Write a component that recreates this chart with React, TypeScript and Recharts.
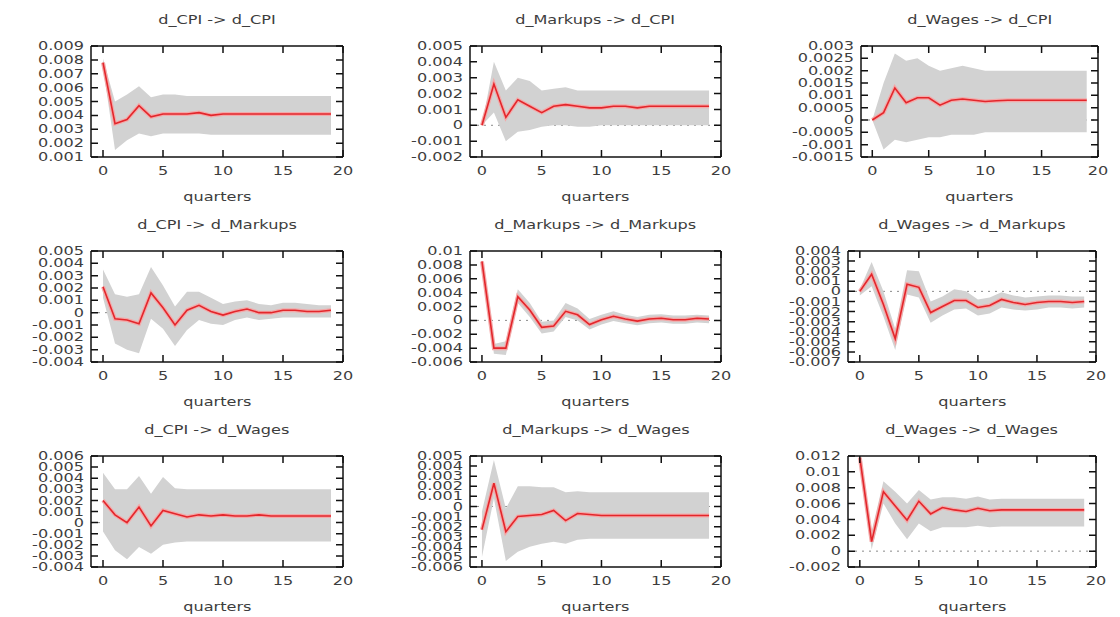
import React from "react";
import { ComposedChart, Area, Line, XAxis, YAxis, ReferenceLine } from "recharts";

// impulse horizon (quarters after the shock)
const quarters = [0, 1, 2, 3, 4, 5, 6, 7, 8, 9, 10, 11, 12, 13, 14, 15, 16, 17, 18, 19];
const xTicks = [0, 5, 10, 15, 20];

// d_CPI -> d_CPI
const cpiCpi = [0.0078, 0.0034, 0.0037, 0.0047, 0.0039, 0.0041, 0.0041, 0.0041, 0.0042, 0.004, 0.0041, 0.0041, 0.0041, 0.0041, 0.0041, 0.0041, 0.0041, 0.0041, 0.0041, 0.0041];
const cpiCpiLo = [0.0075, 0.0015, 0.0022, 0.0027, 0.0025, 0.0027, 0.0027, 0.0027, 0.0027, 0.0026, 0.0026, 0.0026, 0.0026, 0.0026, 0.0026, 0.0026, 0.0026, 0.0026, 0.0026, 0.0026];
const cpiCpiHi = [0.0081, 0.005, 0.0055, 0.0061, 0.0053, 0.0055, 0.0055, 0.0054, 0.0054, 0.0054, 0.0054, 0.0054, 0.0054, 0.0054, 0.0054, 0.0054, 0.0054, 0.0054, 0.0054, 0.0054];
const cpiCpiTicks = [0.001, 0.002, 0.003, 0.004, 0.005, 0.006, 0.007, 0.008, 0.009];

// d_Markups -> d_CPI
const mkpCpi = [0, 0.0026, 0.0005, 0.0016, 0.0012, 0.0008, 0.0012, 0.0013, 0.0012, 0.0011, 0.0011, 0.0012, 0.0012, 0.0011, 0.0012, 0.0012, 0.0012, 0.0012, 0.0012, 0.0012];
const mkpCpiLo = [0, 0.0008, -0.001, -0.0004, -0.0003, -0.0001, 0, 0, -0.0001, -0.0001, 0, 0, 0, 0, 0, 0, 0, 0, 0, 0];
const mkpCpiHi = [0, 0.004, 0.0022, 0.003, 0.0028, 0.0022, 0.0023, 0.0024, 0.0022, 0.0022, 0.0022, 0.0022, 0.0022, 0.0022, 0.0022, 0.0022, 0.0022, 0.0022, 0.0022, 0.0022];
const mkpCpiTicks = [-0.002, -0.001, 0, 0.001, 0.002, 0.003, 0.004, 0.005];

// d_Wages -> d_CPI
const wagCpi = [0, 0.0003, 0.0013, 0.0007, 0.0009, 0.0009, 0.0006, 0.0008, 0.00085, 0.0008, 0.00075, 0.00078, 0.0008, 0.0008, 0.0008, 0.0008, 0.0008, 0.0008, 0.0008, 0.0008];
const wagCpiLo = [0, -0.0012, -0.0008, -0.0009, -0.0008, -0.0007, -0.0007, -0.0006, -0.0006, -0.0006, -0.0005, -0.0005, -0.0005, -0.0005, -0.0005, -0.0005, -0.0005, -0.0005, -0.0005, -0.0005];
const wagCpiHi = [0, 0.0015, 0.0027, 0.0024, 0.0025, 0.0022, 0.002, 0.0021, 0.0022, 0.0021, 0.002, 0.002, 0.002, 0.002, 0.002, 0.002, 0.002, 0.002, 0.002, 0.002];
const wagCpiTicks = [-0.0015, -0.001, -0.0005, 0, 0.0005, 0.001, 0.0015, 0.002, 0.0025, 0.003];

// d_CPI -> d_Markups
const cpiMkp = [0.0021, -0.0005, -0.0006, -0.0009, 0.0016, 0.0004, -0.001, 0.0002, 0.0006, 0.0001, -0.0002, 0.0001, 0.0003, 0, 0, 0.0002, 0.0002, 0.0001, 0.0001, 0.0002];
const cpiMkpLo = [0.0012, -0.0025, -0.003, -0.0033, -0.0005, -0.0013, -0.0027, -0.0014, -0.0006, -0.0009, -0.001, -0.0006, -0.0004, -0.0006, -0.0005, -0.0004, -0.0004, -0.0004, -0.0004, -0.0004];
const cpiMkpHi = [0.0035, 0.0015, 0.0013, 0.0015, 0.0037, 0.0022, 0.0005, 0.0017, 0.0017, 0.0012, 0.0007, 0.0009, 0.001, 0.0007, 0.0006, 0.0008, 0.0008, 0.0007, 0.0006, 0.0006];
const cpiMkpTicks = [-0.004, -0.003, -0.002, -0.001, 0, 0.001, 0.002, 0.003, 0.004, 0.005];

// d_Markups -> d_Markups
const mkpMkp = [0.0085, -0.004, -0.004, 0.0034, 0.0015, -0.001, -0.0008, 0.0013, 0.0008, -0.0006, 0.0001, 0.0006, 0.0002, -0.0001, 0.0002, 0.0003, 0.0001, 0.0001, 0.0003, 0.0002];
const mkpMkpLo = [0.0082, -0.0048, -0.005, 0.0025, 0.0005, -0.0019, -0.0016, 0.0005, 0, -0.0013, -0.0006, -0.0001, -0.0004, -0.0007, -0.0004, -0.0003, -0.0005, -0.0005, -0.0003, -0.0004];
const mkpMkpHi = [0.0088, -0.0034, -0.003, 0.0045, 0.0025, -0.0002, 0, 0.0025, 0.0017, 0.0002, 0.0008, 0.0013, 0.0008, 0.0005, 0.0008, 0.0009, 0.0007, 0.0007, 0.0008, 0.0007];
const mkpMkpTicks = [-0.006, -0.004, -0.002, 0, 0.002, 0.004, 0.006, 0.008, 0.01];

// d_Wages -> d_Markups
const wagMkp = [0, 0.0017, -0.0013, -0.0047, 0.0007, 0.0004, -0.0021, -0.0015, -0.0009, -0.0009, -0.0016, -0.0014, -0.0008, -0.0011, -0.0013, -0.0011, -0.001, -0.001, -0.0011, -0.001];
const wagMkpLo = [-0.0004, 0.0005, -0.0025, -0.0058, -0.0003, -0.0006, -0.0031, -0.0024, -0.0018, -0.0017, -0.0024, -0.0022, -0.0016, -0.0018, -0.0019, -0.0018, -0.0016, -0.0016, -0.0017, -0.0016];
const wagMkpHi = [0.0002, 0.0029, 0, -0.0037, 0.0021, 0.002, -0.001, -0.0005, 0.0002, 0, -0.0008, -0.0006, -0.0001, -0.0004, -0.0006, -0.0005, -0.0004, -0.0004, -0.0005, -0.0005];
const wagMkpTicks = [-0.007, -0.006, -0.005, -0.004, -0.003, -0.002, -0.001, 0, 0.001, 0.002, 0.003, 0.004];

// d_CPI -> d_Wages
const cpiWag = [0.002, 0.0007, 0, 0.0014, -0.0003, 0.0011, 0.0008, 0.0005, 0.0007, 0.0006, 0.0007, 0.0006, 0.0006, 0.0007, 0.0006, 0.0006, 0.0006, 0.0006, 0.0006, 0.0006];
const cpiWagLo = [-0.0008, -0.0025, -0.0033, -0.0022, -0.0028, -0.002, -0.0018, -0.0017, -0.0017, -0.0017, -0.0017, -0.0017, -0.0017, -0.0017, -0.0017, -0.0017, -0.0017, -0.0017, -0.0017, -0.0017];
const cpiWagHi = [0.0045, 0.003, 0.003, 0.0042, 0.0026, 0.0041, 0.0031, 0.003, 0.003, 0.003, 0.003, 0.003, 0.003, 0.003, 0.003, 0.003, 0.003, 0.003, 0.003, 0.003];
const cpiWagTicks = [-0.004, -0.003, -0.002, -0.001, 0, 0.001, 0.002, 0.003, 0.004, 0.005, 0.006];

// d_Markups -> d_Wages
const mkpWag = [-0.0023, 0.0023, -0.0025, -0.001, -0.0009, -0.0008, -0.0004, -0.0014, -0.0007, -0.0008, -0.0009, -0.0009, -0.0009, -0.0009, -0.0009, -0.0009, -0.0009, -0.0009, -0.0009, -0.0009];
const mkpWagLo = [-0.005, 0.0008, -0.0054, -0.0045, -0.004, -0.0037, -0.0035, -0.0037, -0.0033, -0.0032, -0.0032, -0.0032, -0.0032, -0.0032, -0.0032, -0.0032, -0.0032, -0.0032, -0.0032, -0.0032];
const mkpWagHi = [-0.0005, 0.0046, -0.0002, 0.002, 0.002, 0.0019, 0.0019, 0.0014, 0.0015, 0.0014, 0.0014, 0.0014, 0.0014, 0.0014, 0.0014, 0.0014, 0.0014, 0.0014, 0.0014, 0.0014];
const mkpWagTicks = [-0.006, -0.005, -0.004, -0.003, -0.002, -0.001, 0, 0.001, 0.002, 0.003, 0.004, 0.005];

// d_Wages -> d_Wages
const wagWag = [0.0118, 0.0012, 0.0075, 0.0057, 0.0039, 0.0063, 0.0047, 0.0055, 0.0052, 0.005, 0.0054, 0.0051, 0.0052, 0.0052, 0.0052, 0.0052, 0.0052, 0.0052, 0.0052, 0.0052];
const wagWagLo = [0.0114, 0.0002, 0.006, 0.0035, 0.0015, 0.0035, 0.0025, 0.003, 0.003, 0.003, 0.0032, 0.003, 0.0031, 0.0031, 0.0031, 0.0031, 0.0031, 0.0031, 0.0031, 0.0031];
const wagWagHi = [0.0122, 0.0025, 0.0088, 0.0075, 0.006, 0.0077, 0.0065, 0.0068, 0.0068, 0.0066, 0.0069, 0.0065, 0.0066, 0.0066, 0.0066, 0.0066, 0.0066, 0.0066, 0.0066, 0.0066];
const wagWagTicks = [-0.002, 0, 0.002, 0.004, 0.006, 0.008, 0.01, 0.012];

const panels = [
  { title: "d_CPI -> d_CPI", mid: cpiCpi, lo: cpiCpiLo, hi: cpiCpiHi, ticks: cpiCpiTicks },
  { title: "d_Markups -> d_CPI", mid: mkpCpi, lo: mkpCpiLo, hi: mkpCpiHi, ticks: mkpCpiTicks },
  { title: "d_Wages -> d_CPI", mid: wagCpi, lo: wagCpiLo, hi: wagCpiHi, ticks: wagCpiTicks },
  { title: "d_CPI -> d_Markups", mid: cpiMkp, lo: cpiMkpLo, hi: cpiMkpHi, ticks: cpiMkpTicks },
  { title: "d_Markups -> d_Markups", mid: mkpMkp, lo: mkpMkpLo, hi: mkpMkpHi, ticks: mkpMkpTicks },
  { title: "d_Wages -> d_Markups", mid: wagMkp, lo: wagMkpLo, hi: wagMkpHi, ticks: wagMkpTicks },
  { title: "d_CPI -> d_Wages", mid: cpiWag, lo: cpiWagLo, hi: cpiWagHi, ticks: cpiWagTicks },
  { title: "d_Markups -> d_Wages", mid: mkpWag, lo: mkpWagLo, hi: mkpWagHi, ticks: mkpWagTicks },
  { title: "d_Wages -> d_Wages", mid: wagWag, lo: wagWagLo, hi: wagWagHi, ticks: wagWagTicks },
];

// plot frame edges inside each 373x205 cell
const frameLeft = [91, 97, 115, 91, 97, 102, 91, 97, 102];
const frameRight = [343, 348, 352, 343, 348, 350, 343, 348, 350];
const CELL_W = 373;
const CELL_H = 205;
const FRAME_TOP = 46;
const FRAME_BOTTOM = 157;
const TICK_LEN = 7;

const FONT = "'DejaVu Sans', Verdana, sans-serif";
const TEXT = "#3d3d3d";
const INK = "#111";
const SX = 1.4; // the source picture is stretched sideways

const fmt = (v: number) => String(parseFloat(v.toFixed(6)));

// y label plus inward tick marks on the left and right frame edges
function renderYTick(props: any, frameL: number, frameR: number) {
  const { x, y, payload } = props;
  return (
    <g>
      <path d={`M${frameL},${y}h${TICK_LEN}M${frameR - TICK_LEN},${y}h${TICK_LEN}`} stroke={INK} strokeWidth={1.5} fill="none" />
      <text
        transform={`translate(${x},${y}) scale(${SX},1)`}
        textAnchor="end"
        dominantBaseline="central"
        fontSize={11.5}
        fill={TEXT}
        fontFamily={FONT}
      >
        {fmt(payload.value)}
      </text>
    </g>
  );
}

// x label plus inward tick marks on the bottom and top frame edges
function renderXTick(props: any) {
  const { x, y, payload } = props;
  return (
    <g>
      <path d={`M${x},${FRAME_BOTTOM}v${-TICK_LEN}M${x},${FRAME_TOP}v${TICK_LEN}`} stroke={INK} strokeWidth={1.5} fill="none" />
      <text
        transform={`translate(${x},${y}) scale(${SX},1)`}
        textAnchor="middle"
        dominantBaseline="hanging"
        fontSize={11.5}
        fill={TEXT}
        fontFamily={FONT}
      >
        {payload.value}
      </text>
    </g>
  );
}

const frameLine = { stroke: INK, strokeWidth: 1.5 };

function Panel({ idx }: { idx: number }) {
  const p = panels[idx];
  const col = idx % 3;
  const row = Math.floor(idx / 3);
  const left = frameLeft[idx];
  const right = frameRight[idx];
  const data = quarters.map((q, i) => ({ q, mid: p.mid[i], band: [p.lo[i], p.hi[i]] }));
  const yDomain = [p.ticks[0], p.ticks[p.ticks.length - 1]];
  const xAxisH = 26;
  const caption = {
    position: "absolute" as const,
    left,
    width: right - left,
    textAlign: "center" as const,
    fontFamily: FONT,
    fontSize: 11.5,
    lineHeight: "14px",
    color: TEXT,
    whiteSpace: "nowrap" as const,
  };

  return (
    <div style={{ position: "absolute", left: col * CELL_W, top: row * CELL_H, width: CELL_W, height: CELL_H }}>
      <div style={{ ...caption, top: 13 }}>
        <span style={{ display: "inline-block", transform: `scaleX(${SX})` }}>{p.title}</span>
      </div>
      <div style={{ ...caption, top: 190 }}>
        <span style={{ display: "inline-block", transform: `scaleX(${SX})` }}>quarters</span>
      </div>
      <ComposedChart
        width={CELL_W}
        height={CELL_H}
        data={data}
        margin={{ top: FRAME_TOP, right: CELL_W - right, bottom: CELL_H - FRAME_BOTTOM - xAxisH, left: 0 }}
      >
        <XAxis
          xAxisId="b"
          dataKey="q"
          type="number"
          domain={[-1, 20]}
          ticks={xTicks}
          interval={0}
          allowDataOverflow
          height={xAxisH}
          axisLine={frameLine}
          tickLine={false}
          tickSize={0}
          tickMargin={9}
          tick={(t: any) => renderXTick(t)}
        />
        <XAxis xAxisId="t" dataKey="q" orientation="top" type="number" domain={[-1, 20]} allowDataOverflow mirror axisLine={frameLine} tickLine={false} tick={false} />
        <YAxis
          yAxisId="l"
          type="number"
          domain={yDomain}
          ticks={p.ticks}
          interval={0}
          allowDataOverflow
          width={left}
          axisLine={frameLine}
          tickLine={false}
          tickSize={0}
          tickMargin={7}
          tick={(t: any) => renderYTick(t, left, right)}
        />
        <YAxis yAxisId="r" orientation="right" type="number" domain={yDomain} allowDataOverflow mirror axisLine={frameLine} tickLine={false} tick={false} />
        <ReferenceLine xAxisId="b" yAxisId="l" y={0} stroke="#8a8a8a" strokeWidth={1} strokeDasharray="2 5" zIndex={50} />
        <Area xAxisId="b" yAxisId="l" dataKey="band" type="linear" fill="#d2d2d2" fillOpacity={1} stroke="none" isAnimationActive={false} />
        <Line xAxisId="b" yAxisId="l" dataKey="mid" type="linear" stroke="#f3a9a9" strokeWidth={4} dot={false} isAnimationActive={false} />
        <Line xAxisId="b" yAxisId="l" dataKey="mid" type="linear" stroke="#e3262b" strokeWidth={1.6} dot={false} isAnimationActive={false} />
      </ComposedChart>
    </div>
  );
}

export default function App() {
  return (
    <div style={{ position: "absolute", left: 0, top: 0, width: 1120, height: 617, background: "#fff", overflow: "hidden" }}>
      {panels.map((_, i) => (
        <Panel key={i} idx={i} />
      ))}
    </div>
  );
}
